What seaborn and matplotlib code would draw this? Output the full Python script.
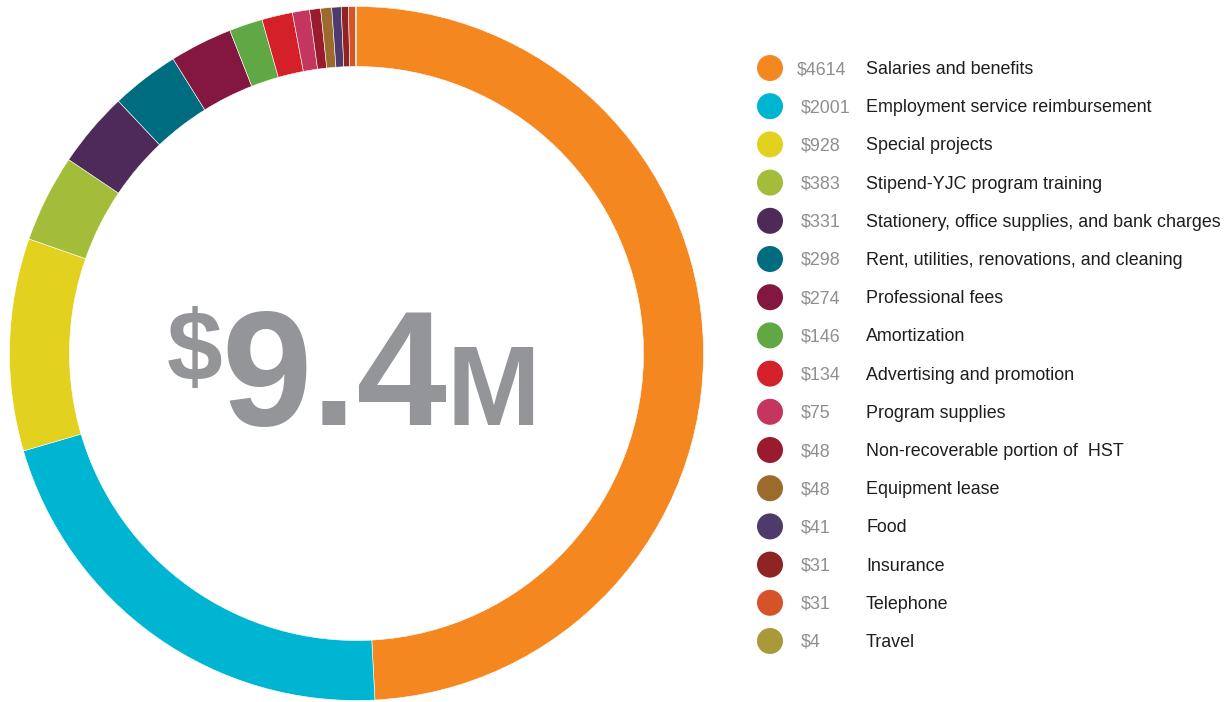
import matplotlib
matplotlib.use("Agg")
import matplotlib.pyplot as plt
import seaborn as sns
from matplotlib.patches import Circle

sns.set_theme(style="white")
plt.rcParams['font.family'] = ['Liberation Sans', 'DejaVu Sans']

categories = [
    "Salaries and benefits",
    "Employment service reimbursement",
    "Special projects",
    "Stipend-YJC program training",
    "Stationery, office supplies, and bank charges",
    "Rent, utilities, renovations, and cleaning",
    "Professional fees",
    "Amortization",
    "Advertising and promotion",
    "Program supplies",
    "Non-recoverable portion of  HST",
    "Equipment lease",
    "Food",
    "Insurance",
    "Telephone",
    "Travel",
]
values = [4614, 2001, 928, 383, 331, 298, 274, 146, 134, 75, 48, 48, 41, 31, 31, 4]
value_labels = ["$" + str(v) for v in values]
colors = [
    "#F58720", "#00B5D1", "#E2D21F", "#A3BD3A", "#4E2A58", "#006C80",
    "#831740", "#5FA844", "#D42029", "#C4365E", "#9A1B2E", "#9C6A2A",
    "#4E3A6B", "#8E2424", "#D6532A", "#A8993A",
]
center_prefix = "$"
center_main = "9.4"
center_suffix = "M"

W, H = 1232, 702
fig = plt.figure(figsize=(W / 100, H / 100), dpi=100)
fig.patch.set_facecolor("white")

# donut
cx, cy, R = 356.5, 353.5, 347
ax = fig.add_axes([(cx - R) / W, (H - cy - R) / H, 2 * R / W, 2 * R / H])
ax.pie(values, colors=colors, startangle=90, counterclock=False, radius=1.0,
       wedgeprops=dict(width=60 / 347, edgecolor="white", linewidth=0.4))
ax.set_xlim(-1, 1)
ax.set_ylim(-1, 1)
ax.set_aspect("equal")
ax.axis("off")

# center text (figure pixel coords, y from top)
def fy(y):
    return (H - y) / H

gray = "#939598"
fig.text(167 / W, fy(381), center_prefix, fontsize=72, fontweight="bold",
         color=gray, ha="left", va="baseline")
fig.text(221 / W, fy(425), center_main, fontsize=117, fontweight="bold",
         color=gray, ha="left", va="baseline")
fig.text(447 / W, fy(425), center_suffix, fontsize=81, fontweight="bold",
         color=gray, ha="left", va="baseline")

# legend
lax = fig.add_axes([0, 0, 1, 1])
lax.set_xlim(0, W)
lax.set_ylim(H, 0)
lax.axis("off")
row0, step = 68, 38.2
for i, (cat, vl, col) in enumerate(zip(categories, value_labels, colors)):
    y = row0 + i * step
    lax.add_patch(Circle((770, y), 13, color=col, lw=0))
    vx = 797 if i == 0 else 801
    lax.text(vx, y + 1.5, vl, fontsize=12.9, color="#8f8f8f", ha="left", va="center")
    lax.text(866, y + 1.5, cat, fontsize=12.9, color="#1e1e1e", ha="left", va="center")

fig.savefig("out.png", dpi=100, facecolor="white")
